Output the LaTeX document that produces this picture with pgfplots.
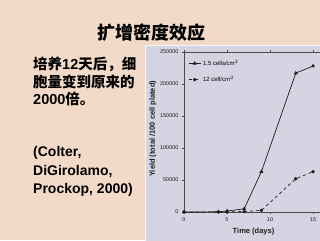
\documentclass[border=0pt]{standalone}
\usepackage{pgfplots}
\pgfplotsset{compat=1.18}
\usepackage{fontspec}
\setmainfont{Liberation Sans}
\newfontfamily\cjk{Noto Sans CJK SC}
\definecolor{peach}{RGB}{243,218,200}
\definecolor{panel}{RGB}{212,212,226}
\definecolor{ink}{RGB}{30,30,30}
\begin{document}
\begin{tikzpicture}[x=1pt,y=1pt]
\useasboundingbox (0,0) rectangle (320,240);
\clip (0,0) rectangle (320,240);
\fill[peach] (0,0) rectangle (320,240);
\filldraw[fill=panel,draw=white!80!panel,line width=0.8pt] (145,-5) rectangle (330,195);
% title
\node[font=\cjk\bfseries\fontsize{18}{20}\selectfont,inner sep=0] at (151,207) {扩增密度效应};
% left text
\begin{scope}[every node/.style={anchor=west,inner sep=0,font=\bfseries\fontsize{14.5}{16}\selectfont}]
\node at (33,176) {{\cjk 培养}12{\cjk 天后，细}};
\node at (33,158) {\cjk 胞量变到原来的};
\node at (33,141) {2000{\cjk 倍。}};
\node[font=\bfseries\fontsize{14}{16}\selectfont] at (33,87) {(Colter,};
\node[font=\bfseries\fontsize{14}{16}\selectfont] at (33,68) {DiGirolamo,};
\node[font=\bfseries\fontsize{14}{16}\selectfont] at (33,50) {Prockop, 2000)};
\end{scope}
\begin{axis}[
  at={(184pt,28pt)}, anchor=south west,
  scale only axis, width=137.6pt, height=160pt,
  xmin=0, xmax=16, ymin=0, ymax=250000,
  xtick={0,5,10,15}, ytick={0,50000,100000,150000,200000,250000},
  scaled y ticks=false,
  yticklabel style={/pgf/number format/fixed,/pgf/number format/1000 sep={}},
  xtick pos=both, ytick pos=left,
  tick align=outside, major tick length=2pt,
  tick label style={font=\fontsize{5.5}{6}\selectfont, text=ink},
  /pgf/number format/assume math mode=true,
  axis line style={ink!80, line width=0.6pt},
  every tick/.style={ink!80, line width=0.5pt},
  xlabel={Time (days)},
  ylabel={Yield (total /100 cell plated)},
  xlabel style={font=\bfseries\fontsize{7.5}{8}\selectfont, text=ink, at={(axis description cs:0.505,-0.125)}, anchor=center},
  ylabel style={font=\bfseries\fontsize{7.5}{8}\selectfont, text=ink, at={(axis description cs:-0.225,0.52)}, anchor=center},
  legend style={at={(axis description cs:0.03,0.965)}, anchor=north west, draw=none, fill=none, font=\fontsize{6}{7}\selectfont, row sep=5pt, inner sep=0pt},
  legend cell align=left,
  legend image code/.code={\draw[mark repeat=2,mark phase=2,#1] plot coordinates {(0pt,0pt)(6pt,0pt)(12pt,0pt)};},
]
\addplot[ink, line width=0.7pt, mark=triangle*, mark size=1.6pt, mark options={solid}] coordinates {
(0,0) (4,300) (5,1500) (7,5000) (9,63000) (13,217000) (15,228000)};
\addlegendentry{1.5 cells/cm$^2$}
\addplot[ink, line width=0.7pt, dashed, mark=*, mark size=1.4pt, mark options={solid}] coordinates {
(0,0) (4,0) (5,200) (7,800) (9,2500) (13,52000) (15,63000)};
\addlegendentry{12 cell/cm$^2$}
\end{axis}
\end{tikzpicture}
\end{document}
